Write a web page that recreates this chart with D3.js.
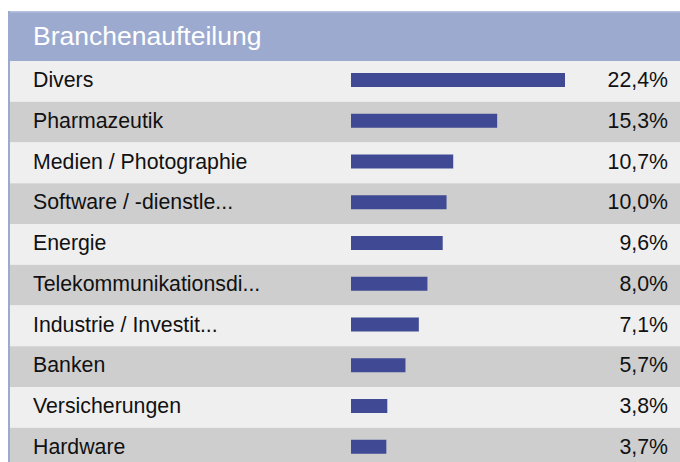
<!DOCTYPE html>
<html>
<head>
<meta charset="utf-8">
<script src="https://cdn.jsdelivr.net/npm/d3@7"></script>
<style>
  html, body { margin: 0; padding: 0; background: #ffffff; }
  svg { display: block; }
  text { font-family: "Liberation Sans", Arial, sans-serif; }
</style>
</head>
<body>
<svg id="chart" width="680" height="462"></svg>
<script>
const title = "Branchenaufteilung";
const categories = ["Divers", "Pharmazeutik", "Medien / Photographie", "Software / -dienstle...", "Energie",
  "Telekommunikationsdi...", "Industrie / Investit...", "Banken", "Versicherungen", "Hardware"];
const values = [22.4, 15.3, 10.7, 10.0, 9.6, 8.0, 7.1, 5.7, 3.8, 3.7];
const valueLabels = ["22,4%", "15,3%", "10,7%", "10,0%", "9,6%", "8,0%", "7,1%", "5,7%", "3,8%", "3,7%"];

const W = 680, H = 462;
const panelLeft = 8, headerTop = 11, headerBottom = 61;
const rowH = 40.75;
const svg = d3.select("#chart");

const y = d3.scaleBand().domain(d3.range(categories.length))
  .range([headerBottom, headerBottom + rowH * categories.length]).padding(0);
const x = d3.scaleLinear().domain([0, 22.4]).range([351, 565]);

// header
svg.append("rect").attr("x", panelLeft).attr("y", headerTop).attr("width", W - panelLeft).attr("height", headerBottom - headerTop)
  .attr("fill", "#9caad0");
svg.append("rect").attr("x", panelLeft).attr("y", headerTop).attr("width", W - panelLeft).attr("height", 1.5)
  .attr("fill", "#b7c2e2");
svg.append("text").attr("x", 33).attr("y", 45).attr("fill", "#ffffff")
  .attr("font-size", 26.5).text(title);

const rows = svg.append("g").selectAll("g").data(categories).join("g");
rows.append("rect")
  .attr("x", panelLeft + 2).attr("y", (d, i) => y(i)).attr("width", W - panelLeft - 2).attr("height", y.bandwidth())
  .attr("fill", (d, i) => i % 2 === 0 ? "#efefef" : "#cecece");
rows.append("text").attr("x", 33).attr("y", (d, i) => y(i) + 26)
  .attr("font-size", 21.3).attr("fill", "#111").text(d => d);
rows.append("rect")
  .attr("x", x(0)).attr("y", (d, i) => y(i) + 12).attr("height", 14)
  .attr("width", (d, i) => x(values[i]) - x(0)).attr("fill", "#404a94");
rows.append("text").attr("x", 668).attr("y", (d, i) => y(i) + 26).attr("text-anchor", "end")
  .attr("font-size", 21.3).attr("fill", "#111").text((d, i) => valueLabels[i]);

// left border
svg.append("rect").attr("x", panelLeft).attr("y", headerTop).attr("width", 2).attr("height", H - headerTop)
  .attr("fill", "#9caad0");
</script>
</body>
</html>
